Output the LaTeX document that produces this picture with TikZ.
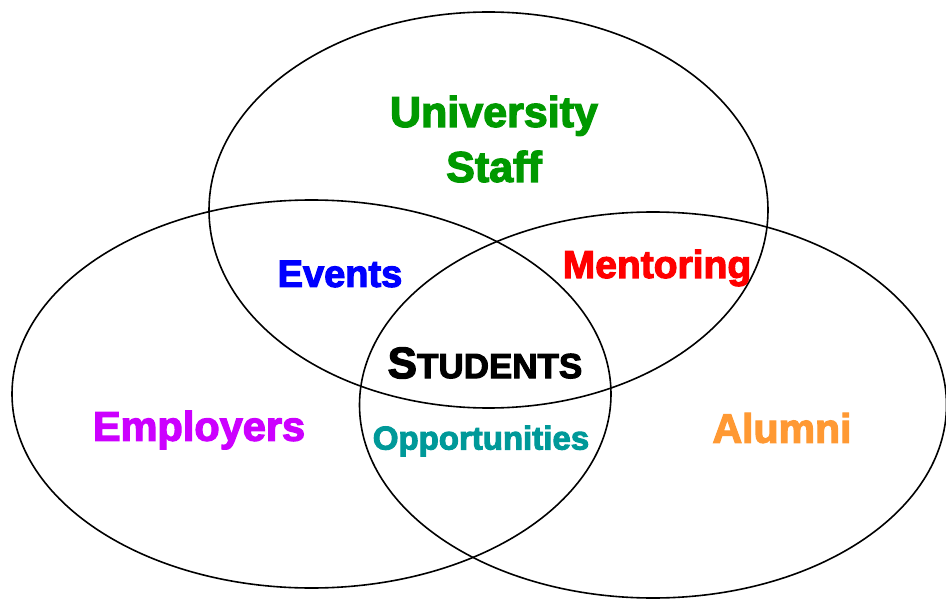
\documentclass[tikz,border=0pt]{standalone}
\usepackage{fontspec}
\setmainfont{Liberation Sans}[BoldFeatures={FakeBold=3}]
\usepackage{tikz}
\definecolor{staffgreen}{RGB}{0,153,0}
\definecolor{eventblue}{RGB}{0,0,255}
\definecolor{mentorred}{RGB}{255,0,0}
\definecolor{employerpink}{RGB}{204,0,255}
\definecolor{opporteal}{RGB}{0,153,153}
\definecolor{alumniorange}{RGB}{255,153,51}
\tikzset{
  ring/.style={draw=black, line width=1.6pt},
  vtext/.style={font=\fontsize{#1}{#1}\selectfont\bfseries, inner sep=0pt, align=center},
}

\begin{document}
\begin{tikzpicture}[x=1pt, y=-1pt]
\useasboundingbox (0,0) rectangle (946,599);
% the three rings
\draw[ring] (488.5,210) ellipse [x radius=279.5, y radius=198];
\draw[ring] (311.5,394) ellipse [x radius=299.5, y radius=194];
\draw[ring] (653,405) ellipse [x radius=293.5, y radius=193];
% texts
\node[vtext=43, text=staffgreen] (staff) at (494,139) {University\\[12pt]Staff};
\node[vtext=38, text=eventblue] (events) at (340,274) {Events};
\node[vtext=39, text=mentorred] (mentoring) at (657,268) {Mentoring};
\node[vtext=44] (students) at (485,363) {S{\fontsize{35}{35}\selectfont TUDENTS}};
\node[vtext=41.5, text=employerpink] (employers) at (199,430) {Employers};
\node[vtext=33, text=opporteal] (opportunities) at (481,441) {Opportunities};
\node[vtext=41, text=alumniorange] (alumni) at (782,428) {Alumni};
\end{tikzpicture}
\end{document}
